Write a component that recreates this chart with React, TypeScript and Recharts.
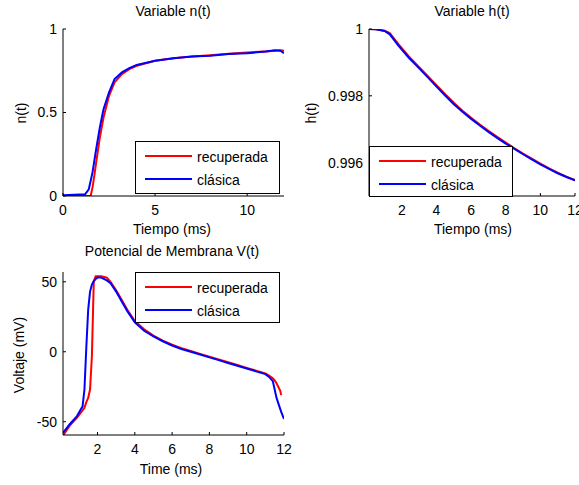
import React from 'react'
import { LineChart, Line, XAxis, YAxis } from 'recharts'

const FONT = '"Liberation Sans", Arial, Helvetica, sans-serif'
const RED = '#ff0000'
const BLUE = '#0000ff'
const SERIES_NAMES = ['recuperada', 'clásica']

// Variable n(t)
const nTime = [0, 1.2, 1.4, 1.5, 1.6, 1.7, 1.8, 2.0, 2.2, 2.5, 2.8, 3.2, 3.6, 4.0, 5.0, 6.0, 7.0, 8.0, 9.0, 10.0, 11.0, 11.5, 11.8, 12.0]
const nRecuperada = [0, 0, 0, 0, 0.05, 0.12, 0.2, 0.35, 0.47, 0.6, 0.68, 0.73, 0.76, 0.78, 0.81, 0.825, 0.835, 0.843, 0.852, 0.86, 0.866, 0.87, 0.872, 0.87]
const nClasica = [0.005, 0.01, 0.04, 0.09, 0.14, 0.21, 0.28, 0.41, 0.52, 0.62, 0.7, 0.74, 0.765, 0.785, 0.81, 0.825, 0.835, 0.84, 0.85, 0.855, 0.865, 0.872, 0.87, 0.855]
const nXTicks = [0, 5, 10]
const nYTicks = [0, 0.5, 1]

// Variable h(t)
const hTime = [0.1, 0.5, 1.0, 1.3, 1.8, 2.4, 3.0, 3.5, 4.0, 4.5, 5.0, 5.5, 6.0, 6.5, 7.0, 7.5, 8.0, 8.5, 9.0, 9.5, 10.0, 10.5, 11.0, 11.5, 12.0]
const hRecuperada = [1.0, 0.99999, 0.99995, 0.99988, 0.99955, 0.99918, 0.99886, 0.99859, 0.99832, 0.99805, 0.99779, 0.99755, 0.99734, 0.99714, 0.99695, 0.99677, 0.9966, 0.99643, 0.99627, 0.99612, 0.99597, 0.99583, 0.9957, 0.99558, 0.99548]
const hClasica = [1.0, 0.99999, 0.99994, 0.99984, 0.9995, 0.99914, 0.99882, 0.99855, 0.99828, 0.99801, 0.99775, 0.99752, 0.99731, 0.99711, 0.99692, 0.99674, 0.99657, 0.99641, 0.99625, 0.9961, 0.99595, 0.99581, 0.99568, 0.99557, 0.99547]
const hXTicks = [2, 4, 6, 8, 10, 12]
const hYTicks = [0.996, 0.998, 1]

// Potencial de Membrana V(t)
const vTime = [0.15, 0.5, 0.9, 1.2, 1.3, 1.4, 1.5, 1.6, 1.7, 1.8, 1.9, 2.0, 2.2, 2.5, 2.7, 3.0, 3.3, 3.6, 4.0, 4.5, 5.0, 5.5, 6.0, 6.5, 7.0, 7.5, 8.0, 8.5, 9.0, 9.5, 10.0, 10.5, 11.0, 11.2, 11.4, 11.5, 11.6, 11.8, 11.85, 12.0]
const vRecuperada = [-60, -53, -47, -42, -40, -36, -33, -27, -3, 50, 54, 54, 54, 53, 50, 44, 37, 30, 22, 16, 11.5, 8, 5, 2.5, 0.5, -1.5, -3.5, -5.5, -7.5, -9.5, -11.5, -13.5, -15.5, -17, -19, -20.5, -22.5, -28, -31, null]
const vClasica = [-58, -52, -46, -39, -27, 3, 30, 43, 48, 50.5, 52, 53, 53, 51, 49, 43, 36, 29, 21, 15, 11, 7.5, 4.5, 2, 0, -2, -4, -6, -8, -10, -12, -14, -16, -18, -21, -27, -33, -41, -43, -48]
const vXTicks = [2, 4, 6, 8, 10, 12]
const vYTicks = [-50, 0, 50]

type Row = { t: number; rec: number | null; cla: number | null }
const rows = (t: number[], a: (number | null)[], b: (number | null)[]): Row[] =>
  t.map((v, i) => ({ t: v, rec: a[i], cla: b[i] }))

type Box = { l: number; t: number; r: number; b: number }

const tickStyle = { fill: '#000', fontSize: 14 }

// x tick label drawn with its baseline ~19px under the box edge
const XTick = (p: any) => (
  <text x={p.x} y={p.y} dy={20} textAnchor="middle" fill="#000" fontSize={14}>
    {p.payload.value}
  </text>
)

function Panel(props: {
  box: Box
  data: Row[]
  xDomain: [number, number]
  yDomain: [number, number]
  xTicks: number[]
  yTicks: number[]
}) {
  const { box, data, xDomain, yDomain, xTicks, yTicks } = props
  // margins 10 + y axis 50 / margins 20 + x axis 30
  const w = box.r - box.l + 60
  const h = box.b - box.t + 50
  return (
    <div style={{ position: 'absolute', left: box.l - 50, top: box.t - 10 }}>
      <LineChart width={w} height={h} data={data} margin={{ top: 10, right: 10, bottom: 10, left: 0 }}>
        <XAxis
          dataKey="t"
          type="number"
          domain={xDomain}
          ticks={xTicks}
          interval={0}
          allowDataOverflow
          height={30}
          stroke="#000"
          tickSize={-3}
          tickMargin={2}
          tick={XTick}
        />
        <XAxis
          xAxisId="top"
          orientation="top"
          dataKey="t"
          type="number"
          domain={xDomain}
          ticks={xTicks}
          interval={0}
          allowDataOverflow
          height={0}
          stroke="#000"
          tickSize={-3}
          tick={() => <g />}
        />
        <YAxis
          type="number"
          domain={yDomain}
          ticks={yTicks}
          interval={0}
          allowDataOverflow
          width={50}
          stroke="#000"
          tickSize={-3}
          tickMargin={9}
          tick={tickStyle}
        />
        <YAxis
          yAxisId="right"
          orientation="right"
          type="number"
          domain={yDomain}
          ticks={yTicks}
          interval={0}
          allowDataOverflow
          width={0}
          stroke="#000"
          tickSize={-3}
          tick={() => <g />}
        />
        <Line type="linear" dataKey="rec" stroke={RED} strokeWidth={2} dot={false} isAnimationActive={false} />
        <Line type="linear" dataKey="cla" stroke={BLUE} strokeWidth={2} dot={false} isAnimationActive={false} />
      </LineChart>
    </div>
  )
}

function LegendBox({ left, top, width, height }: { left: number; top: number; width: number; height: number }) {
  const colors = [RED, BLUE]
  const rowY = [15, 38]
  return (
    <div
      style={{
        position: 'absolute',
        left,
        top,
        width: width - 2,
        height: height - 2,
        border: '1px solid #000',
        background: '#fff',
      }}
    >
      {SERIES_NAMES.map((name, i) => (
        <React.Fragment key={name}>
          <div
            style={{
              position: 'absolute',
              left: 9,
              top: rowY[i] - 2,
              width: 47,
              height: 2,
              background: colors[i],
            }}
          />
          <div
            style={{
              position: 'absolute',
              left: 61,
              top: rowY[i] - 8,
              fontSize: 14,
              lineHeight: '16px',
              whiteSpace: 'nowrap',
            }}
          >
            {name}
          </div>
        </React.Fragment>
      ))}
    </div>
  )
}

function Label({ x, y, text, rotate }: { x: number; y: number; text: string; rotate?: boolean }) {
  return (
    <div
      style={{
        position: 'absolute',
        left: x,
        top: y,
        transform: `translate(-50%, -50%)${rotate ? ' rotate(-90deg)' : ''}`,
        fontSize: 14,
        lineHeight: 1,
        whiteSpace: 'nowrap',
      }}
    >
      {text}
    </div>
  )
}

export default function App() {
  return (
    <div
      style={{
        position: 'absolute',
        left: 0,
        top: 0,
        width: 579,
        height: 485,
        overflow: 'hidden',
        background: '#fff',
        fontFamily: FONT,
        color: '#000',
      }}
    >
      <Panel
        box={{ l: 63, t: 29, r: 284, b: 196 }}
        data={rows(nTime, nRecuperada, nClasica)}
        xDomain={[0, 12]}
        yDomain={[0, 1]}
        xTicks={nXTicks}
        yTicks={nYTicks}
      />
      <Panel
        box={{ l: 369, t: 29, r: 575, b: 196 }}
        data={rows(hTime, hRecuperada, hClasica)}
        xDomain={[0.1, 12]}
        yDomain={[0.995, 1]}
        xTicks={hXTicks}
        yTicks={hYTicks}
      />
      <Panel
        box={{ l: 63, t: 272, r: 284, b: 435 }}
        data={rows(vTime, vRecuperada, vClasica)}
        xDomain={[0.15, 12]}
        yDomain={[-59.5, 57]}
        xTicks={vXTicks}
        yTicks={vYTicks}
      />

      <LegendBox left={135} top={141} width={145} height={53} />
      <LegendBox left={369} top={146} width={144} height={51} />
      <LegendBox left={135} top={272} width={145} height={51} />

      <Label x={173} y={11} text="Variable n(t)" />
      <Label x={472} y={11} text="Variable h(t)" />
      <Label x={172} y={251} text="Potencial de Membrana V(t)" />
      <Label x={172} y={229} text="Tiempo (ms)" />
      <Label x={473} y={229} text="Tiempo (ms)" />
      <Label x={171} y={469} text="Time (ms)" />
      <Label x={21} y={113} text="n(t)" rotate />
      <Label x={311} y={113} text="h(t)" rotate />
      <Label x={19} y={355} text="Voltaje (mV)" rotate />
    </div>
  )
}
